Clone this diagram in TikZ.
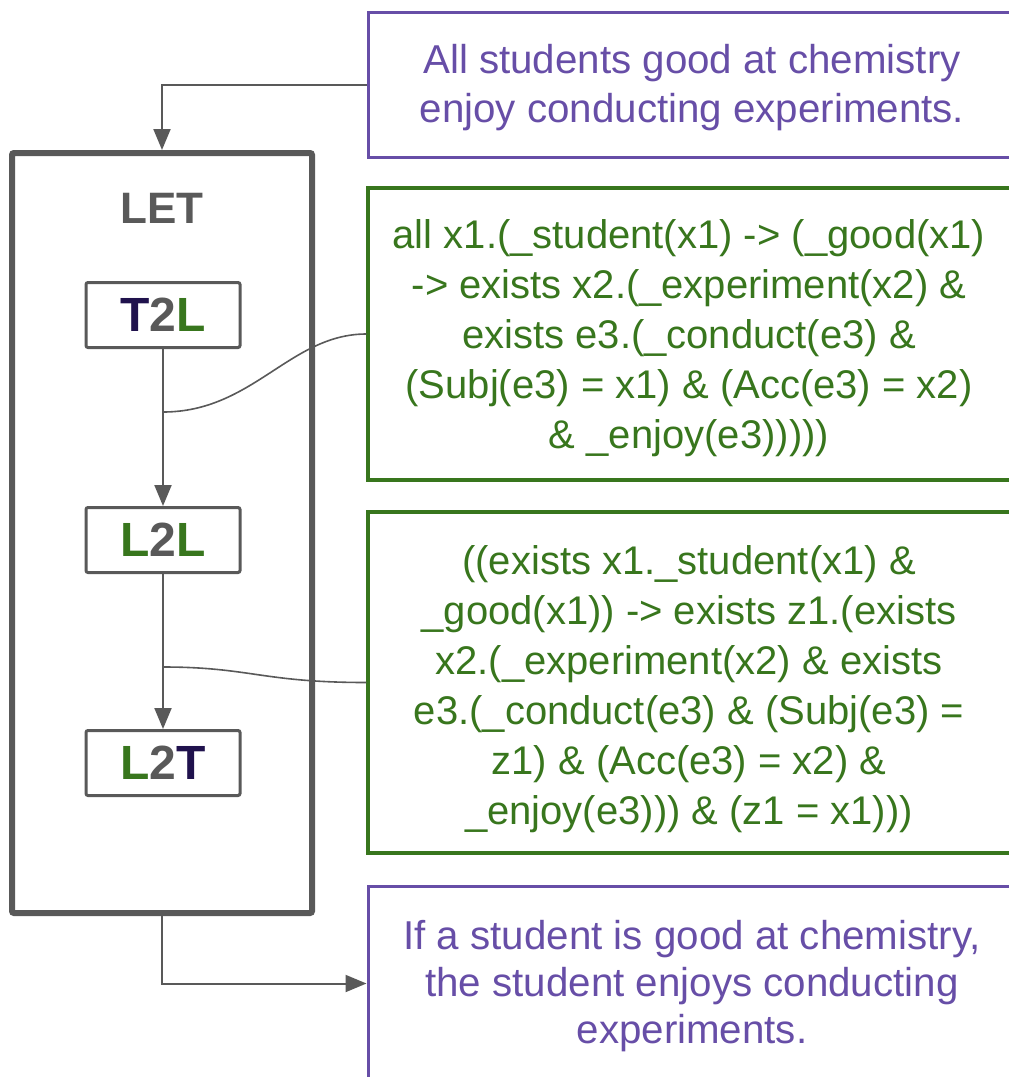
\documentclass[tikz,border=0pt]{standalone}
\usepackage{fontspec}
\setmainfont{Liberation Sans}
\usetikzlibrary{arrows.meta}
\definecolor{gpurple}{HTML}{674EA7}
\definecolor{dpurple}{HTML}{20124D}
\definecolor{ggreen}{HTML}{38761D}
\definecolor{ggray}{HTML}{595959}
\tikzset{
  purplebox/.style={draw=gpurple, line width=3pt, minimum width=644pt, inner sep=0pt},
  greenbox/.style={draw=ggreen, line width=3.2pt, minimum width=644pt, inner sep=0pt},
  purpletext/.style={text=gpurple, align=center, inner sep=0pt,
    font=\fontsize{40.3}{49}\selectfont},
  greentext/.style={text=ggreen, align=center, inner sep=0pt,
    font=\fontsize{40}{50}\selectfont},
  letbox/.style={draw=ggray, line width=6pt, rounded corners=2pt,
    minimum width=300pt, minimum height=760pt, inner sep=0pt},
  lettitle/.style={text=ggray, font=\bfseries\fontsize{44}{50}\selectfont, inner sep=0pt},
  stagebox/.style={draw=ggray, line width=3pt, rounded corners=2pt, text=ggray,
    minimum width=154pt, minimum height=65pt, inner sep=0pt,
    font=\bfseries\fontsize{48}{56}\selectfont},
  conn/.style={draw=ggray, line width=2pt, -{Triangle[length=21pt,width=17pt]}},
  link/.style={draw=ggray, line width=1.6pt},
}
\begin{document}
\begin{tikzpicture}[x=1pt,y=-1pt]
\useasboundingbox (0,0) rectangle (1009,1077);
\clip (0,0) rectangle (1009,1077);

% right column: boxes
\node[purplebox, minimum height=145pt] (top) at (690,84.5) {};
\node[greenbox, minimum height=292pt] (g1) at (690,334) {};
\node[greenbox, minimum height=341pt] (g2) at (690,682.5) {};
\node[purplebox, minimum height=195pt] (bot) at (690,983.5) {};

% right column: texts
\node[purpletext] (toptext) at (692,88)
  {All students good at chemistry\\enjoy conducting experiments.};
\node[greentext] (g1text) at (689,338)
  {all x1.(\_student(x1) -> (\_good(x1)\\
   -> exists x2.(\_experiment(x2) \&\\
   exists e3.(\_conduct(e3) \&\\
   (Subj(e3) = x1) \& (Acc(e3) = x2)\\
   \& \_enjoy(e3)))))};
\node[greentext] (g2text) at (689,689)
  {((exists x1.\_student(x1) \&\\
   \_good(x1)) -> exists z1.(exists\\
   x2.(\_experiment(x2) \& exists\\
   e3.(\_conduct(e3) \& (Subj(e3) =\\
   z1) \& (Acc(e3) = x2) \&\\
   \_enjoy(e3))) \& (z1 = x1)))};
\node[purpletext, font=\fontsize{40.3}{47}\selectfont] (bottext) at (692,986)
  {If a student is good at chemistry,\\the student enjoys conducting\\experiments.};

% LET column
\node[letbox] (let) at (162,533) {};
\node[lettitle] (lettext) at (162,208) {LET};
\node[stagebox] (t2l) at (163,315) {{\color{dpurple}T}2{\color{ggreen}L}};
\node[stagebox] (l2l) at (163,540) {{\color{ggreen}L}2{\color{ggreen}L}};
\node[stagebox] (l2t) at (163,763) {{\color{ggreen}L}2{\color{dpurple}T}};

% connectors
\draw[conn] (top.west) -| (let.north);
\draw[conn] (t2l.south) -- (l2l.north);
\draw[conn] (l2l.south) -- (l2t.north);
\draw[conn] (let.south) |- (bot.west);

\coordinate (c1) at (163,412);
\coordinate (c2) at (163,667);
\draw[link] (c1) .. controls (253,412) and (290,334) .. (g1.west);
\draw[link] (c2) .. controls (250,667) and (262,682.5) .. (g2.west);
\end{tikzpicture}
\end{document}
